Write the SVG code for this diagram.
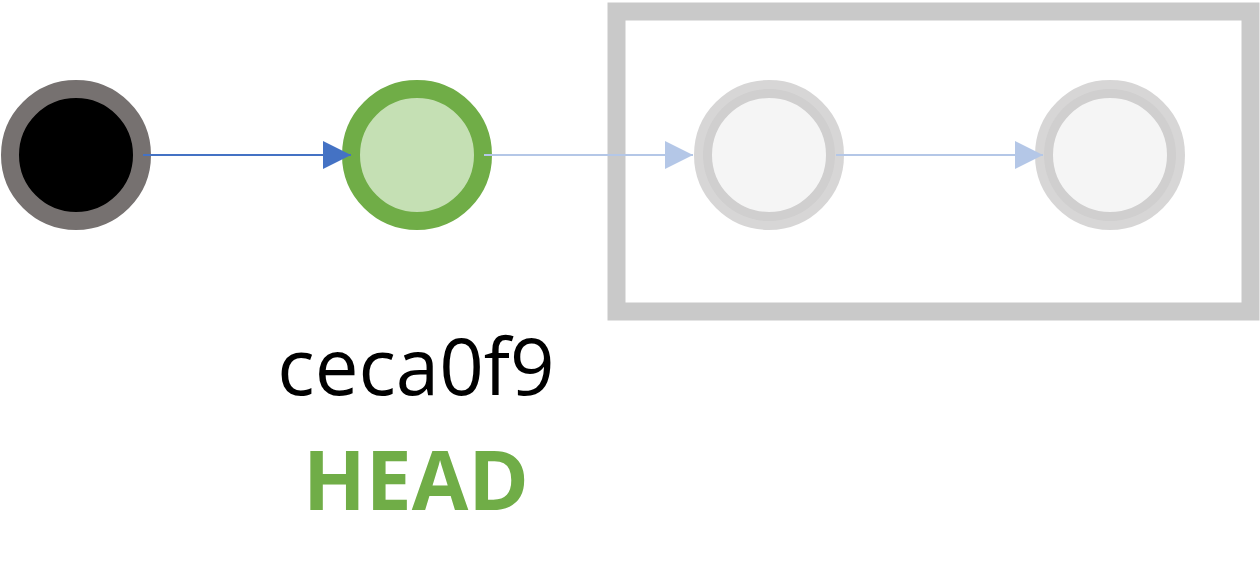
<svg xmlns="http://www.w3.org/2000/svg" width="1260" height="582" viewBox="0 0 1260 582">
  <style>
    .ghost { fill: #F5F5F5; stroke: #767170; stroke-opacity: 0.29; stroke-width: 18; }
    .label { font-family: "Open Sans", "Liberation Sans", sans-serif; text-anchor: middle; }
  </style>
  <defs>
    <marker id="arrowDark" markerUnits="userSpaceOnUse" markerWidth="28" markerHeight="28" refX="28" refY="14" orient="auto">
      <path d="M0,0 L28,14 L0,28 Z" fill="#4472C4"/>
    </marker>
    <marker id="arrowLight" markerUnits="userSpaceOnUse" markerWidth="28" markerHeight="28" refX="28" refY="14" orient="auto">
      <path d="M0,0 L28,14 L0,28 Z" fill="#B4C7E7"/>
    </marker>
  </defs>
  <rect width="1260" height="582" fill="#FFFFFF"/>
  <g id="future-box">
    <rect x="616.5" y="11.5" width="634" height="300" fill="none" stroke="#C9C9C9" stroke-width="18"/>
  </g>
  <g id="node-root">
    <circle cx="76" cy="155" r="66" fill="#000000" stroke="#767170" stroke-width="18"/>
  </g>
  <g id="node-head">
    <circle cx="417" cy="155" r="66" fill="#C5E0B4" stroke="#70AD47" stroke-width="18"/>
    <text class="label" x="416" y="395" font-size="78" fill="#000000">ceca0f9</text>
    <text class="label" x="416" y="510" font-size="82" font-weight="bold" fill="#70AD47">HEAD</text>
  </g>
  <g id="node-future1">
    <circle class="ghost" cx="769" cy="155" r="66"/>
  </g>
  <g id="node-future2">
    <circle class="ghost" cx="1110" cy="155" r="66"/>
  </g>
  <g id="connectors">
    <line x1="143" y1="155" x2="351" y2="155" stroke="#4472C4" stroke-width="2" marker-end="url(#arrowDark)"/>
    <line x1="484" y1="155" x2="693" y2="155" stroke="#B4C7E7" stroke-width="2" marker-end="url(#arrowLight)"/>
    <line x1="836" y1="155" x2="1043" y2="155" stroke="#B4C7E7" stroke-width="2" marker-end="url(#arrowLight)"/>
  </g>
</svg>
